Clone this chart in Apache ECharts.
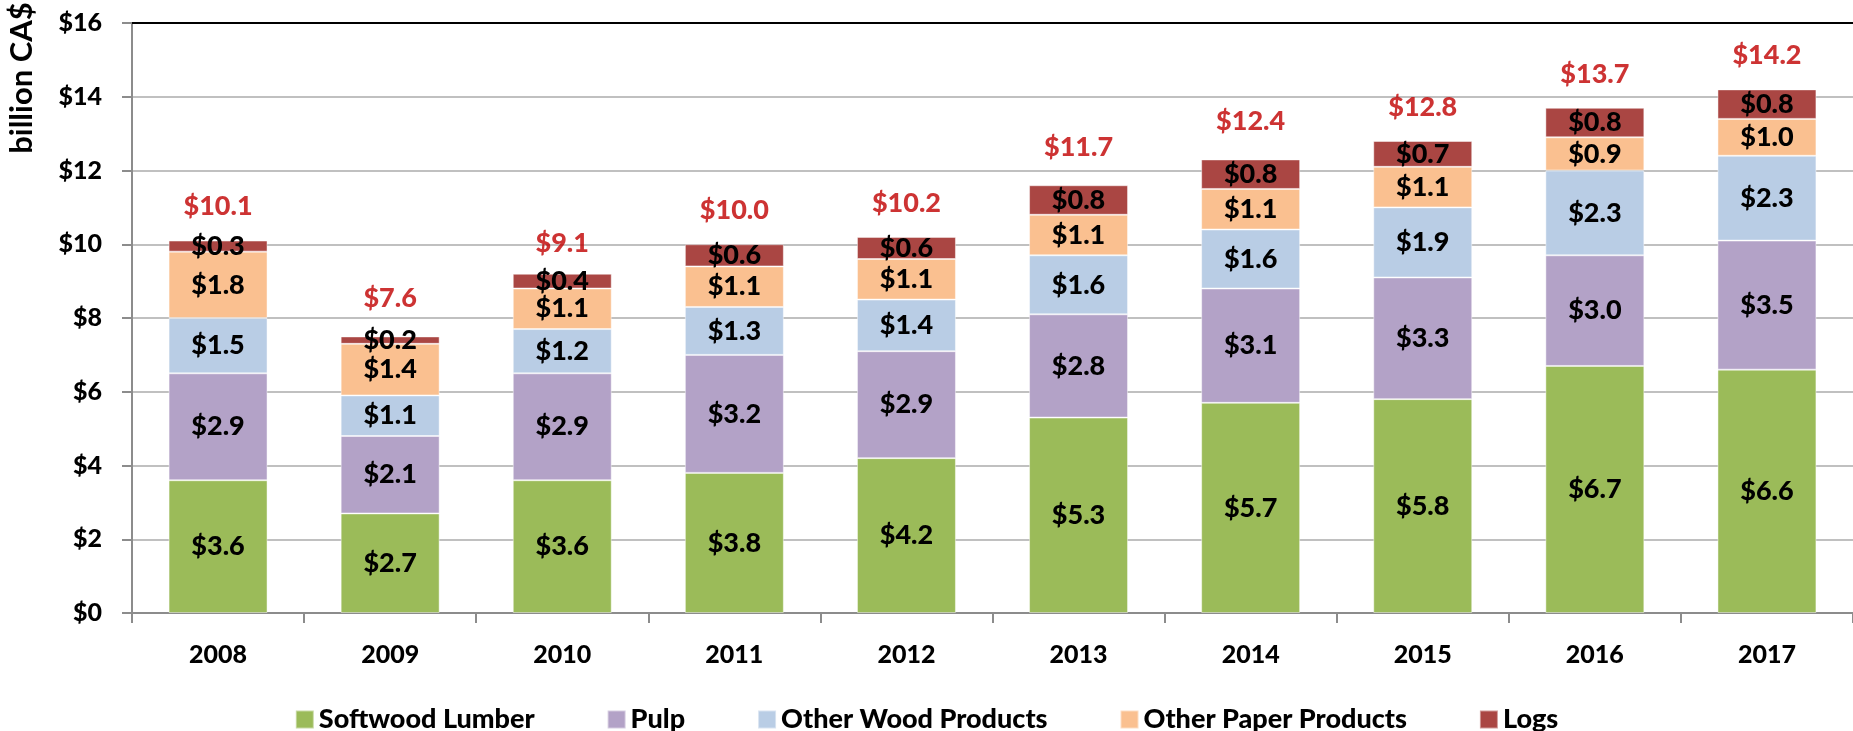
<!DOCTYPE html>
<html>
<head>
<meta charset="utf-8">
<script src="https://cdn.jsdelivr.net/npm/echarts@6/dist/echarts.min.js"></script>
<style>
  html, body { margin: 0; padding: 0; background: #ffffff; }
  #chart { width: 1853px; height: 731px; }
</style>
</head>
<body>
<div id="chart"></div>
<script>
// Forest product exports by year, billion CA$
const years = ['2008', '2009', '2010', '2011', '2012', '2013', '2014', '2015', '2016', '2017'];
const softwoodLumber    = [3.6, 2.7, 3.6, 3.8, 4.2, 5.3, 5.7, 5.8, 6.7, 6.6];
const pulp              = [2.9, 2.1, 2.9, 3.2, 2.9, 2.8, 3.1, 3.3, 3.0, 3.5];
const otherWoodProducts = [1.5, 1.1, 1.2, 1.3, 1.4, 1.6, 1.6, 1.9, 2.3, 2.3];
const otherPaperProducts= [1.8, 1.4, 1.1, 1.1, 1.1, 1.1, 1.1, 1.1, 0.9, 1.0];
const logs              = [0.3, 0.2, 0.4, 0.6, 0.6, 0.8, 0.8, 0.7, 0.8, 0.8];
const totals            = [10.1, 7.6, 9.1, 10.0, 10.2, 11.7, 12.4, 12.8, 13.7, 14.2];
const yTicks = { min: 0, max: 16, interval: 2 };

const FONT = 'Lato';
const WEIGHT = 900;

const seriesDefs = [
  { name: 'Softwood Lumber', data: softwoodLumber, color: '#9BBB59' },
  { name: 'Pulp', data: pulp, color: '#B3A2C7' },
  { name: 'Other Wood Products', data: otherWoodProducts, color: '#B9CDE5' },
  { name: 'Other Paper Products', data: otherPaperProducts, color: '#FAC090' },
  { name: 'Logs', data: logs, color: '#AA4643' }
];

const barSeries = seriesDefs.map(s => ({
  name: s.name,
  type: 'bar',
  stack: 'total',
  data: s.data,
  barWidth: '57.5%',
  itemStyle: { color: s.color, borderColor: 'rgba(255,255,255,0.45)', borderWidth: 1 },
  label: {
    show: true,
    position: 'inside',
    formatter: p => '$' + p.value.toFixed(1),
    color: '#000',
    fontFamily: FONT,
    fontWeight: WEIGHT,
    fontSize: 27
  }
}));

// Totals written above each stack
const totalSeries = {
  name: 'Total',
  type: 'scatter',
  data: totals,
  symbol: 'circle',
  symbolSize: 1,
  itemStyle: { color: 'rgba(0,0,0,0)' },
  silent: true,
  z: 5,
  label: {
    show: true,
    position: 'top',
    distance: 20,
    formatter: p => '$' + p.value.toFixed(1),
    color: '#C00000',
    fontFamily: FONT,
    fontWeight: WEIGHT,
    fontSize: 27
  }
};

const chart = echarts.init(document.getElementById('chart'));
chart.setOption({
  animation: false,
  backgroundColor: '#ffffff',
  grid: { left: 132, right: 0, top: 23, bottom: 118, containLabel: false, outerBoundsMode: 'none' },
  legend: {
    data: seriesDefs.map(s => s.name),
    top: 701,
    left: 'center',
    itemWidth: 18,
    itemHeight: 18,
    itemGap: 72,
    icon: 'rect',
    textStyle: { fontFamily: FONT, fontWeight: WEIGHT, fontSize: 27, color: '#000' }
  },
  xAxis: [
    {
      type: 'category',
      data: years,
      axisLine: { show: true, lineStyle: { color: '#8c8c8c', width: 2 } },
      axisTick: { show: true, length: 10, lineStyle: { color: '#8c8c8c', width: 2 } },
      axisLabel: { margin: 29, fontFamily: FONT, fontWeight: WEIGHT, fontSize: 25, color: '#000' }
    },
    {
      type: 'category',
      data: years,
      position: 'top',
      axisLine: { show: true, lineStyle: { color: '#000', width: 2 } },
      axisTick: { show: false },
      axisLabel: { show: false }
    }
  ],
  yAxis: {
    type: 'value',
    min: yTicks.min,
    max: yTicks.max,
    interval: yTicks.interval,
    name: 'billion CA$',
    nameLocation: 'middle',
    nameRotate: 90,
    nameGap: 95,
    nameTextStyle: {
      fontFamily: FONT,
      fontWeight: 700,
      fontSize: 31,
      color: '#000',
      // lift the title toward the top of the axis
      padding: [0, 0, 0, 480]
    },
    axisLine: { show: true, lineStyle: { color: '#8c8c8c', width: 2 } },
    axisTick: { show: true, length: 10, lineStyle: { color: '#8c8c8c', width: 2 } },
    splitLine: { show: true, lineStyle: { color: '#c0c0c0', width: 2 } },
    axisLabel: {
      margin: 30,
      formatter: v => '$' + v,
      fontFamily: FONT,
      fontWeight: WEIGHT,
      fontSize: 25,
      color: '#000'
    }
  },
  series: [...barSeries, totalSeries]
});
</script>
</body>
</html>
